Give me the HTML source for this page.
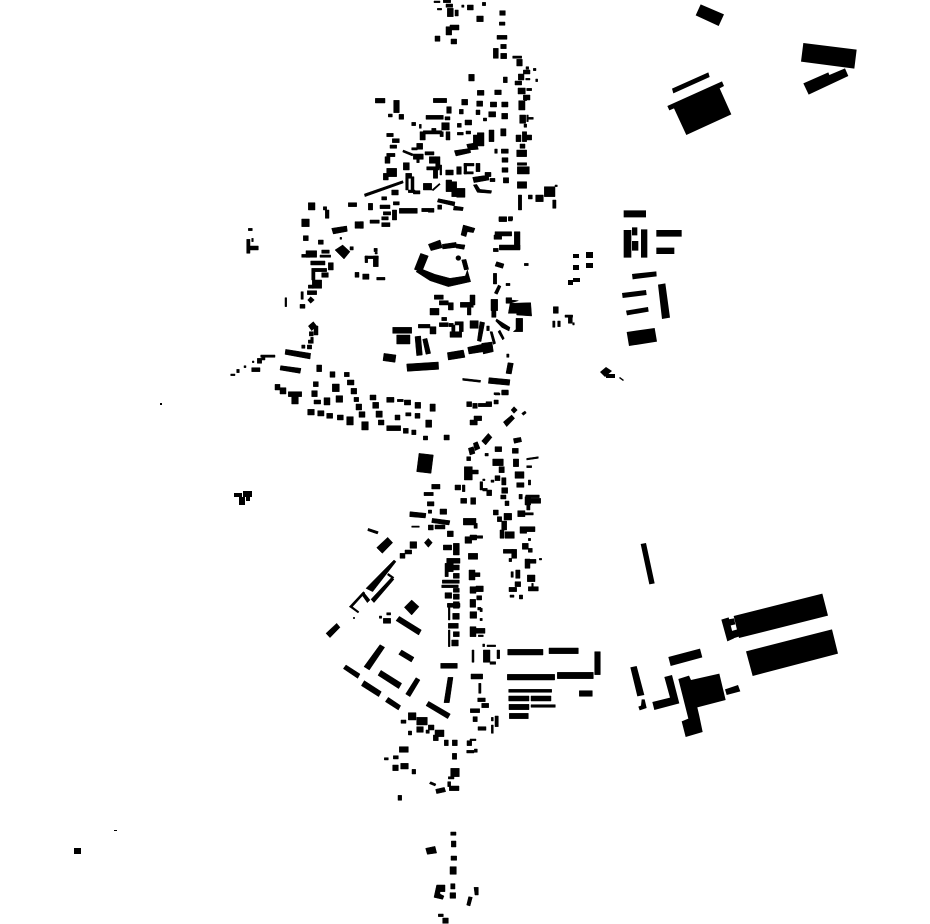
<!DOCTYPE html>
<html><head><meta charset="utf-8"><title>Figure-ground plan</title>
<style>html,body{margin:0;padding:0;background:#fff}svg{display:block}.s path{stroke:#000;stroke-width:1.5;stroke-linejoin:miter}</style></head>
<body>
<svg xmlns="http://www.w3.org/2000/svg" width="930" height="924" viewBox="0 0 930 924">
<rect width="930" height="924" fill="#fff"/>
<g fill="#000" stroke="none">
<!-- NE + school group -->
<g transform="translate(610 0) scale(.33333)">
<path d="M272 13L342 43L326 78L257 46zM580 129L740 149L733 206L573 185zM580 250L655 217L658 225L705 205L715 228L596 284zM186 266L295 217L299 231L190 280zM172 318L336 244L342 258L329 265L364 343L229 405L192 325L178 331z
M41 631H108V652H41zM41 690H64V773H41zM66 682H82V706H66zM66 723H85V752H66zM93 688H112V773H93zM139 690H215V710H139zM139 743H193V762H139z
M66 822L139 814L140 829L68 838zM36 879L108 870L110 885L38 894zM48 932L114 921L116 935L51 946zM144 854L166 850L180 953L156 957zM50 996L134 984L141 1025L57 1038z"/>
</g>
<!-- SE complex -->
<g transform="translate(620 530) scale(.33333)">
<path d="M62 42L78 39L104 160L88 163zM341 258L607 191L624 257L357 324zM304 269L326 262L342 325L322 334zM325 268L342 265L346 283L330 287zM335 303L352 298L356 320L340 325zM378 364L636 298L654 371L398 438zM145 381L240 356L247 382L152 408zM31 412L50 408L73 495L52 499zM133 441L156 435L178 520L103 540L97 516L150 503zM55 530L63 527L65 508L74 508L80 534L59 541zM175 447L207 437L213 450L298 431L317 510L232 532L238 558L248 606L197 621L185 574L205 566zM315 478L354 465L361 484L320 495z"/>
</g>
<!-- bottom-middle terraces -->
<g transform="translate(460 630) scale(.33333)" class="s">
<path d="M143 58H249V75H143zM267 54H355V71H267zM404 65H421V134H404zM142 133H284V150H142zM292 127H400V146H292zM146 178H275V187H146zM146 198H207V213H146zM213 198H273V213H213zM147 223H207V239H147zM213 224H286V232H213zM148 250H205V266H148zM358 182H397V199H358zM70 60H90V97H70zM81 45H107V50H81zM90 95H107V103H90zM111 60H119V86H111zM36 60H42V97H36zM68 42H74V50H68zM33 132H68V147H33zM56 160H63V190H56zM53 204H76V215H53zM65 220H86V233H65zM31 236H59V248H31zM39 260H52V275H39zM54 290H78V301H54zM105 258H115V290H105zM94 285H100V310H94zM94 262H100V273H94zM21 332H35V347H21zM30 327H48V332H30zM20 361H42V369H20zM43 357H52V367H43z"/>
</g>
<!-- north -->
<g transform="translate(360 0) scale(.33333)" class="s">
<path d="M222 3H240V8H222zM232 25H245V30H232zM250 0H272V8H250zM258 12H278V22H258zM262 25H280V50H262zM285 30H295V48H285zM305 15H312V22H305zM322 15H340V30H322zM367 7H377V17H367zM350 48H370V65H350zM258 80H275V105H258zM270 75H297V90H270zM225 108H240V124H225zM273 117H290V132H273z
M419 32H436V46H419zM418 66H435V76H418zM411 106H441V118H411zM422 133H439V146H422zM400 145H415V175H400zM422 160H440V176H422zM458 168H485V175H458zM470 178H487V198H470zM490 210H510V222H490zM498 200H506V208H498zM475 222H492V240H475zM465 243H485V255H465zM497 235H510V240H497zM520 205H528V212H520zM527 237H533V245H527zM326 223H343V243H326zM430 231H442V248H430zM352 271H372V286H352zM404 270H424V284H404zM474 264H496V282H474zM500 265H515V272H500zM490 285H510V300H490zM476 302H495V330H476zM493 290H500V302H493z
M46 295H75V309H46zM101 301H118V338H101zM85 342H97V351H85zM117 343H131V358H117zM220 295H260V308H220zM305 298H323V315H305zM260 320H274V340H260zM298 328H310V342H298zM350 303H368V319H350zM391 306H410V321H391zM425 306H444V321H425zM348 330H360V344H348zM386 335H407V351H386zM425 340H443V357H425zM370 354H380V363H370zM198 346H250V358H198zM255 350H270V360H255zM479 345H497V370H479zM500 345H505V365H500zM505 352H520V358H505zM492 372H500V382H492zM155 367H167V377H155zM178 373H184V385H178zM245 368H268V390H245zM292 370H304V382H292zM315 360H335V375H315z
M215 385H228V395H215zM190 392H245V402H190zM180 395H196V420H180zM240 395H250V410H240zM258 395H270V420H258zM292 397H310V405H292zM318 393H332V402H318zM340 405H355V435H340zM352 398H372V438H352zM387 390H402V425H387zM422 386H438V408H422zM80 400H100V410H80zM97 416H118V428H97zM170 430H188V448H170zM155 443H172V450H155zM404 447H412V460H404zM424 447H445V460H424zM468 405H483V425H468zM487 395H500V425H487zM500 405H515V420H500zM480 432H495V445H480zM470 450H500V470H470zM426 473H444V487H426zM472 488H500V496H472zM90 435H110V445H90zM80 460H105V470H80zM75 470H90V490H75zM130 488H148V510H130zM195 455H222V465H195zM160 462H190V478H160zM170 478H178V488H170zM208 470H228V490H208zM227 470H240V505H227zM240 495H245V525H240zM200 500H238V510H200zM220 510H233V535H220zM257 510H280V525H257zM290 500H304V523H290zM312 490H342V498H312zM312 490H320V522H312zM312 515H340V522H312zM348 490H360V515H348zM426 503H444V517H426zM472 500H508V522H472zM375 517H393V530H375zM390 535H405V545H390zM430 533H446V549H430zM472 545H500V565H472zM80 505H110V530H80zM70 520H85V540H70zM137 520H155V535H137zM137 535H145V570H137zM153 530H162V575H153zM145 570H165V578H145zM160 572H180V582H160zM190 550H215V570H190zM258 540H275V575H258zM275 545H290V590H275zM290 565H315V592H290zM65 590H80V600H65zM95 570H115V585H95zM100 605H118V615H100zM25 610H38V630H25zM60 615H90V626H60zM97 630H110V660H97zM70 635H92V645H70zM118 625H172V640H118zM185 625H205V635H185zM205 625H222V637H205zM233 615H245V628H233zM475 585H485V630H475zM505 585H517V597H505zM527 585H550V605H527zM553 560H585V590H553zM578 600H588V625H578zM585 555H592V560H585zM417 650H440V663H417zM448 650H458V660H448zM0 665H10V685H0zM30 660H58V670H30zM65 650H85V660H65zM65 668H90V680H65z
M13 582L128 542L130 549L15 590zM130 450L160 462L157 468L128 456zM283 452L330 445L332 458L288 468zM320 433L350 428L355 448L325 450zM338 532L385 525L387 540L342 548zM215 570L238 550L241 553L220 572zM340 555L350 553L360 568L395 572L393 580L352 577zM235 596L285 606L283 618L232 606zM282 618L310 622L308 632L280 630z"/>
</g>
<!-- west -->
<g transform="translate(220 200) scale(.33333)" class="s">
<path d="M265 8H285V30H265zM310 20H320V30H310zM316 30H327V55H316zM385 8H410V20H385zM245 57H268V80H245zM335 85L380 78L382 94L340 102zM405 65H430V85H405zM250 107H265V122H250zM295 120H310V133H295zM360 112H365V118H360zM345 150L368 135L390 155L372 177zM390 140H400V150H390zM462 145H472V155H462zM465 157H472V162H465zM435 168H475V176H435zM435 168H443V188H435zM460 168H475V200H460zM405 217H417V232H405zM428 222H447V238H428zM470 232H495V240H470z
M85 85H97V92H85zM80 118H90V160H80zM95 115H100V125H95zM90 138H115V150H90zM245 163H270V172H245zM258 152H290V172H258zM305 150H328V160H305zM300 165H332V172H300zM272 183H315V195H272zM325 188H340V210H325zM275 205H285V240H275zM285 205H320V215H285zM305 218H325V232H305zM277 240H305V265H277zM265 255H280V265H265zM262 272H290V284H262zM243 275H250V298H243zM263 300L272 290L283 300L272 310zM240 313H255V325H240zM195 293H200V320H195zM265 378L280 365L290 378L275 392zM282 378H294V405H282zM268 395H280V408H268zM272 412H280V430H272zM245 435H255V445H245zM265 420H275V430H265zM262 435H275V447H262z
M197 448L272 460L270 477L195 463zM122 465H165V472H122zM112 475H125V490H112zM125 470H135V480H125zM95 503H120V515H95zM97 483H102V488H97zM32 522H45V527H32zM50 508H58V518H50zM72 497H78V503H72zM182 497L243 505L240 520L180 510zM290 495H305V515H290zM165 553H180V570H165zM180 563H198V582H180zM205 575H245V590H205zM215 590H235V612H215z
M263 628H283V645H263zM293 632H312V648H293zM320 640H338V655H320zM352 645H370V660H352zM380 650H400V675H380zM425 665H445V690H425zM330 515H345V532H330zM373 517H388V530H373zM382 540H402V555H382zM280 545H295V560H280zM337 552H358V575H337zM393 565H410V582H393zM275 572H292V590H275zM282 600H302V612H282zM312 593H330V615H312zM348 587H368V607H348zM402 592H416V605H402zM408 612H425V630H408zM417 635H435V652H417zM450 585H468V600H450zM458 607H476V625H458zM468 633H487V652H468zM475 660H492V675H475zM500 592H522V607H500zM532 598H550V605H532zM553 600H572V615H553zM585 607H602V625H585zM630 612H646V634H630zM525 645H540V660H525zM557 638H573V648H557zM585 640H600V655H585zM617 660H635V682H617zM500 677H542V692H500zM550 685H565V700H550zM575 690H588V704H575zM610 708H623V720H610zM672 705H688V720H672z"/>
</g>
<!-- centre -->
<g transform="translate(380 210) scale(.33333)" class="s">
<path d="M122 130L145 138L125 187L103 178zM108 185L122 176L165 193L210 205L256 198L262 180L272 215L205 230L150 212zM245 150L258 148L266 178L253 180zM145 103L180 90L187 113L153 122zM187 103L228 97L230 112L188 117zM230 102L255 105L252 118L228 114zM243 75L250 45L285 55L280 68L262 65L258 80z
M357 22H380V35H357zM385 20H397V33H385zM345 65H395V78H345zM403 65H420V118H403zM358 105H420V120H358zM342 75H365V88H342zM340 115H355V125H340zM433 160H445V167H433zM350 155L372 162L368 175L345 168zM340 190H350V222H340zM378 220H390V227H378zM355 225L363 229L352 253L343 249zM333 268H353V302H333zM335 302H348V322H335zM378 263H395V280H378zM390 280L452 278L455 318L410 315L410 310L385 310L392 270L415 272zM408 325H428V365H400L408 358zM347 333L350 327L390 352L387 363L365 352zM354 365L360 360L373 385L368 390zM380 432H387V442H380zM384 458L400 460L394 492L378 490z
M163 255H190V268H163zM178 272H205V285H178zM205 278H220V300H205zM150 295H177V315H150zM241 277H280V292H241zM270 255H285V285H270zM262 293H273V315H262zM185 322H200V332H185zM178 338H205V350H178zM115 343H150V354H115zM150 350H168V372H150zM207 340H220V350H207zM38 352H95V370H38zM50 375H90V402H50zM105 380L122 378L127 435L110 437zM128 388L141 385L152 430L138 433zM12 430L48 435L45 457L9 452zM80 462L175 456L176 478L82 484zM202 428L250 420L255 442L205 450zM263 412L310 402L312 425L267 432zM305 400L336 396L340 425L310 432zM270 332H295V355H270zM300 335L314 338L303 395L292 392zM320 348H328V362H320zM330 365H337L347 400L340 403zM225 335H250V345H225zM210 365H245V382H210zM238 345H250V365H238zM215 345H225V365H215zM248 505L302 511L301 517L248 511zM327 503L390 509L388 526L325 520zM342 548H358V554H342zM365 540H385V555H365zM520 290H535V310H520zM518 333H525V352H518zM533 333H541V350H533zM555 315H578V322H555zM565 322H577V340H565zM578 338H583V345H578z"/>
<circle cx="235" cy="144" r="8"/>
</g>
<!-- south-centre -->
<g transform="translate(400 390) scale(.33333)" class="s">
<path d="M57 190L100 195L93 250L50 245zM200 35H215V50H200zM218 40H232V55H218zM235 40H275V50H235zM258 35H275V45H258zM282 30H295V42H282zM285 10H300V15H285zM305 3H325V13H305zM210 90H232V105H210zM222 78H245V92H222zM333 60L342 50L352 60L342 70zM365 70L375 63L379 69L370 76zM310 96L335 75L344 85L320 110zM340 146L362 142L365 155L343 160zM245 153L265 130L276 142L257 165zM220 160L232 155L240 175L225 182zM205 175L220 170L225 190L210 195zM200 200H212V212H200zM255 190H265V198H255zM285 170H305V185H285zM337 175H355V190H337zM278 207H310V227H278zM297 230H313V248H297zM340 207H356V230H340zM380 205L415 200L415 205L380 210zM380 227H395V233H380zM345 245H372V265H345zM350 278H372V292H350zM385 270H392V285H385zM193 230H217V270H193zM215 240H235V252H215z
M240 275H248V300H240zM248 267H255V272H248zM248 295H262V303H248zM260 300H275V317H260zM273 270H282V277H273zM285 257H300V272H285zM305 263H318V285H305zM305 293H323V310H305zM302 315H318V327H302zM315 333H327V347H315zM357 313H367V327H357zM377 315H418V323H377zM375 320H392V345H375zM392 325H422V340H392zM380 345H390V360H380zM353 362H375V380H353zM375 368H400V375H375zM280 360H295V375H280zM312 370H335V390H312zM292 380H305V395H292zM305 393H320V420H305zM300 420H312V445H300zM315 425H343V445H315zM360 410H380V430H360zM380 410H405V425H380zM385 445H392V452H385zM367 460H385V478H367zM385 475H397V487H385z
M165 285H182V300H165zM187 285H195V305H187zM95 283H120V297H95zM72 307H100V317H72zM82 335H102V348H82zM85 360H95V370H85zM182 325H200V340H182zM212 323H227V343H212zM30 365L78 370L76 384L29 380zM120 357H140V373H120zM97 385L150 392L147 405L95 398zM35 408H58V412H35zM85 405H100V420H85zM105 405H135V417H105zM142 423H160V440H142zM190 385H228V405H190zM222 400H232V415H222zM210 435H230V450H210zM195 440H215V460H195zM230 437H248V445H230zM160 460H178V495H160zM130 465H155V480H130zM205 490H233V508H205zM73 458L85 445L97 458L85 472zM30 455H50V475H30zM15 480H35V492H15zM0 490H15V505H0z
M310 478H340V490H310zM335 478H350V505H335zM327 505H335V515H327zM375 507H390V535H375zM390 508H408V520H390zM418 505H425V510H418zM382 555H405V575H382zM395 580H400V590H395zM385 590H415V603H385zM333 545H340V562H333zM347 540H360V565H347zM345 575H362V590H345zM327 592H350V605H327zM330 615H342V622H330zM358 615H368V627H358zM207 540H225V570H207zM225 548H240V560H225zM210 590H228V610H210zM228 588H250V605H228zM210 628H227V652H210zM230 617H245V630H230zM233 652H243V660H233zM140 505H180V520H140zM135 520H160V545H135zM160 525H178V540H160zM135 545H145V560H135zM160 550H178V565H160zM127 570H178V580H127zM125 585H175V593H125zM160 595H178V607H160zM135 608H155V625H135zM160 612H178V628H160zM160 635H178V655H160zM145 640H150V660H145z"/>
</g>
<!-- SW estate -->
<g transform="translate(320 520) scale(.33333)" class="s">
<path d="M145 25L175 35L172 42L143 32zM170 83L203 52L218 68L187 100zM138 205L222 120L228 125L158 215zM153 238L215 172L222 178L162 248zM205 160L222 172L218 176L202 165zM88 260L130 215L135 219L94 264zM126 225L132 218L150 240L142 248zM88 260L92 256L117 275L114 279zM18 340L50 310L60 322L30 353zM253 262L275 240L297 260L275 285zM238 289L304 330L296 345L228 302zM180 374L194 382L148 450L132 440zM245 390L282 412L274 426L236 403zM78 435L120 462L113 475L70 446zM133 482L184 515L176 530L124 497zM183 451L245 490L236 506L174 466zM288 473L300 480L270 530L257 522zM205 532L242 557L235 570L196 545zM326 544L391 582L383 596L318 557zM362 430H412V445H362zM384 472H399L388 548H372z
M382 250H420V262H382zM385 270H390V300H385zM398 280H418V298H398zM385 310H415V325H385zM385 330H390V380H385zM400 335H418V350H400zM395 360H415V378H395zM450 275H470V295H450zM480 265H487V275H480zM480 295H487V302H480zM450 320H468V350H450zM468 325H495V340H468zM475 345H490V350H475zM178 288H185V295H178zM200 278H212V285H200zM190 295H212V310H190zM100 292H104V296H100zM265 578H288V600H265zM290 592H322V615H290zM325 615H342V630H325zM345 630H372V650H345zM243 600H258V610H243zM290 620H310V637H290zM265 633H275V645H265zM318 630H328V640H318zM340 645H355V662H340zM373 660H385V677H373zM397 660H412V677H397zM397 700H410V718H397zM238 680H265V697H238zM193 713H205V720H193zM220 707H235V717H220z"/>
</g>
<!-- far south -->
<g transform="translate(380 760) scale(.33333)" class="s">
<path d="M38 15H55V32H38zM62 10H85V27H62zM96 28H107V42H96zM212 25H238V50H212zM205 50H222V57H205zM203 65H212V80H203zM208 78H237V92H208zM152 65L168 72L165 78L148 71zM167 88L193 82L197 95L170 101zM54 106H65V121H54zM212 216H228V226H212zM214 243H228V261H214zM213 288H230V301H213zM210 320H229V343H210zM212 371H225V387H212zM210 398H227V415H210zM137 265L165 259L170 279L142 283zM170 375H195V395H180V402L192 408L188 418L162 412zM282 382H295V405H285zM266 410L277 412L270 438L260 435zM175 462H190V470H175zM188 474H205V490H188z"/>
</g>
<!-- isolated, page coordinates -->
<path d="M573 254H579V258H573zM586 252H593V258H586zM573 265H579V270H573zM586 263H593V268H586zM568 280H573V285H568zM573 278H580V282H573zM600 372L606 367L612 371L605 377zM606 374H615V378H606zM620 377L624 380L623 381L619 378zM160 403H162V405H160zM234 493H242V497H234zM243 491H252V497H243zM239 497H245V505H239zM246 497H250V501H246zM74 848H81V854H74zM114 830H117V831H114z"/>
</g>
</svg>
</body></html>
